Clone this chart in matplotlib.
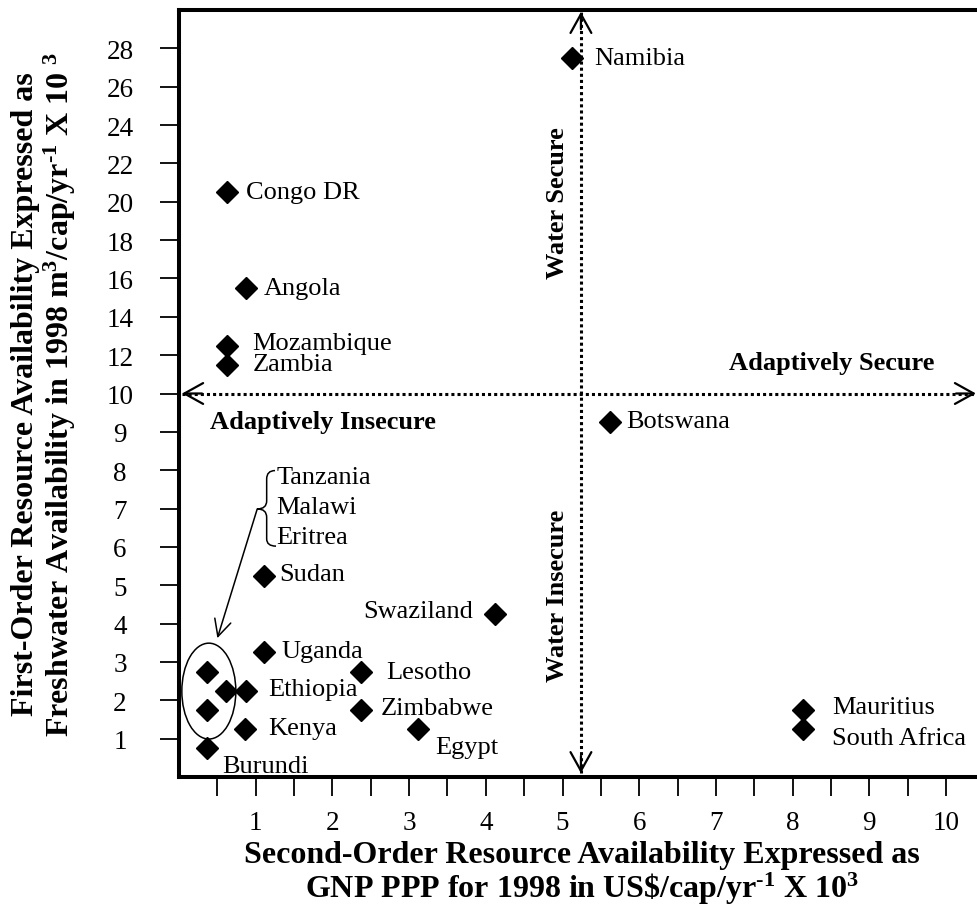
import matplotlib.pyplot as plt
import numpy as np
from matplotlib.patches import Ellipse, PathPatch
from matplotlib.path import Path

plt.rcParams['font.family'] = ['Liberation Serif', 'DejaVu Serif']
plt.rcParams['mathtext.fontset'] = 'custom'
plt.rcParams['mathtext.rm'] = 'Liberation Serif:bold'
plt.rcParams['mathtext.bf'] = 'Liberation Serif:bold'
plt.rcParams['mathtext.default'] = 'bf'

# data: GNP PPP (x 10^3) and freshwater (x 10^3 m3)
countries = ['Namibia', 'Congo DR', 'Angola', 'Mozambique', 'Zambia', 'Botswana',
             'Sudan', 'Swaziland', 'Uganda', 'Lesotho', 'Ethiopia', 'Zimbabwe',
             'Kenya', 'Egypt', 'Burundi', 'Mauritius', 'South Africa',
             'Tanzania', 'Malawi', 'Eritrea']
gnp = [5.12, 0.62, 0.87, 0.62, 0.62, 5.62,
       1.11, 4.12, 1.11, 2.37, 0.87, 2.37,
       0.86, 3.12, 0.36, 8.13, 8.13,
       0.36, 0.61, 0.36]
water = [27.5, 20.5, 15.5, 12.5, 11.5, 9.25,
         5.25, 4.25, 3.25, 2.75, 2.25, 1.75,
         1.25, 1.25, 0.75, 1.75, 1.25,
         2.75, 2.25, 1.75]

x_ticks = np.arange(0.5, 10.51, 0.5)
x_labels = [str(int(v)) if v == int(v) else '' for v in x_ticks]
y_ticks = [1, 2, 3, 4, 5, 6, 7, 8, 9, 10, 12, 14, 16, 18, 20, 22, 24, 26, 28]
y_labels = [str(v) for v in y_ticks]

# label offsets in points (dx, dy, ha)
offsets = {
    'Namibia': (16, 0, 'left'), 'Congo DR': (14, 0, 'left'),
    'Angola': (13, 0, 'left'), 'Mozambique': (18.5, 1.5, 'left'),
    'Zambia': (18.5, 0.5, 'left'), 'Botswana': (11.5, 1, 'left'),
    'Sudan': (11, 1, 'left'), 'Swaziland': (-16, 2, 'right'),
    'Uganda': (12.5, 1, 'left'), 'Lesotho': (18, 0, 'left'),
    'Ethiopia': (16, 1, 'left'), 'Zimbabwe': (14.5, 1.5, 'left'),
    'Kenya': (16.5, 1, 'left'), 'Egypt': (12, -13, 'left'),
    'Burundi': (11, -12.5, 'left'), 'Mauritius': (21, 2, 'left'),
    'South Africa': (21, -6.5, 'left'),
}
grouped = ['Tanzania', 'Malawi', 'Eritrea']
grouped_y = [7.82, 7.04, 6.26]


def fwd(y):
    y = np.asarray(y, dtype=float)
    return np.where(y <= 10, y, 10 + (y - 10) / 2)


def inv(t):
    t = np.asarray(t, dtype=float)
    return np.where(t <= 10, t, 10 + (t - 10) * 2)


fig = plt.figure(figsize=(9.78, 9.2), dpi=100)
ax = fig.add_axes([179 / 978, 142 / 920, 805.4 / 978, 767 / 920])
ax.set_yscale('function', functions=(fwd, inv))
ax.set_xlim(0, 10.5)
ax.set_ylim(0, 30)

for s in ax.spines.values():
    s.set_linewidth(2.9)

ax.set_xticks(x_ticks, x_labels)
ax.set_yticks(y_ticks, y_labels)
ax.minorticks_off()
ax.tick_params(axis='both', direction='out', length=13.5, width=1.3,
               labelsize=19.5, color='black')
ax.tick_params(axis='x', pad=10)
ax.tick_params(axis='y', pad=29)
for lab in ax.get_yticklabels():
    lab.set_ha('center')

# quadrant lines
ax.plot([5.24, 5.24], [0.1, 29.9], color='black', lw=2.2, dashes=(1, 1), zorder=2)
ax.plot([0.04, 10.39], [10, 10], color='black', lw=2.2, dashes=(1, 1), zorder=2)
head = dict(arrowstyle='->,head_length=0.9,head_width=0.5', lw=1.6, color='black',
            shrinkA=0, shrinkB=0, mutation_scale=15)
ax.annotate('', xy=(5.24, 29.9), xytext=(5.24, 29.0), arrowprops=head)
ax.annotate('', xy=(5.24, 0.1), xytext=(5.24, 0.55), arrowprops=head)
ax.annotate('', xy=(0.04, 10), xytext=(0.3, 10), arrowprops=head)
ax.annotate('', xy=(10.39, 10), xytext=(10.13, 10), arrowprops=head)

ax.plot(gnp, water, linestyle='none', marker='D', markersize=11,
        color='black', zorder=3)

for name, gx, wy in zip(countries, gnp, water):
    if name in offsets:
        dx, dy, ha = offsets[name]
        ax.annotate(name, (gx, wy), xytext=(dx, dy), textcoords='offset points',
                    ha=ha, va='center', fontsize=19)

for name, gy in zip(grouped, grouped_y):
    ax.text(1.27, gy, name, ha='left', va='center', fontsize=19)

# brace and pointer to the grouped points
bx = [1.252, 1.143, 1.143, 1.143, 1.143, 1.021, 1.143, 1.143, 1.143, 1.143, 1.265]
by = [7.99, 7.99, 7.77, 7.20, 6.99, 6.99, 6.99, 6.77, 6.21, 6.02, 6.02]
codes = [Path.MOVETO, Path.CURVE3, Path.CURVE3, Path.LINETO, Path.CURVE3, Path.CURVE3,
         Path.CURVE3, Path.CURVE3, Path.LINETO, Path.CURVE3, Path.CURVE3]
ax.add_patch(PathPatch(Path(np.column_stack([bx, by]), codes), fill=False,
                       lw=1.1, color='black'))
ax.annotate('', xy=(0.5, 3.62), xytext=(1.02, 6.99),
            arrowprops=dict(arrowstyle='->,head_length=0.8,head_width=0.4',
                            lw=1.1, color='black', shrinkA=0, shrinkB=0,
                            mutation_scale=15))
ax.add_patch(Ellipse((0.389, 2.24), 0.704, 2.5, fill=False, lw=1.1, color='black'))

# quadrant captions
ax.text(4.94, 20.0, 'Water Secure', rotation=90, ha='center', va='center',
        fontsize=19, fontweight='bold')
ax.text(4.94, 4.75, 'Water Insecure', rotation=90, ha='center', va='center',
        fontsize=19, fontweight='bold')
ax.text(8.51, 11.64, 'Adaptively Secure', ha='center', va='center',
        fontsize=19, fontweight='bold')
ax.text(1.877, 9.28, 'Adaptively Insecure', ha='center', va='center',
        fontsize=19, fontweight='bold')

ax.set_xlabel('Second-Order Resource Availability Expressed as\n'
              'GNP PPP for 1998 in US\\$/cap/yr$^{\\text{-1}}$ X 10$^{3}$',
              fontsize=23, fontweight='bold', linespacing=1.05)
ax.xaxis.set_label_coords(0.5, -0.125)
ax.xaxis.label.set_va('center')
ax.set_ylabel('First-Order Resource Availability Expressed as\n'
              'Freshwater Availability in 1998 m$^{3}$/cap/yr$^{\\text{-1}}$ X 10$^{\\ 3}$',
              fontsize=23, fontweight='bold', linespacing=1.1)
ax.yaxis.set_label_coords(-0.167, 0.5)
ax.yaxis.label.set_va('center')

fig.savefig('out.png', dpi=100)
